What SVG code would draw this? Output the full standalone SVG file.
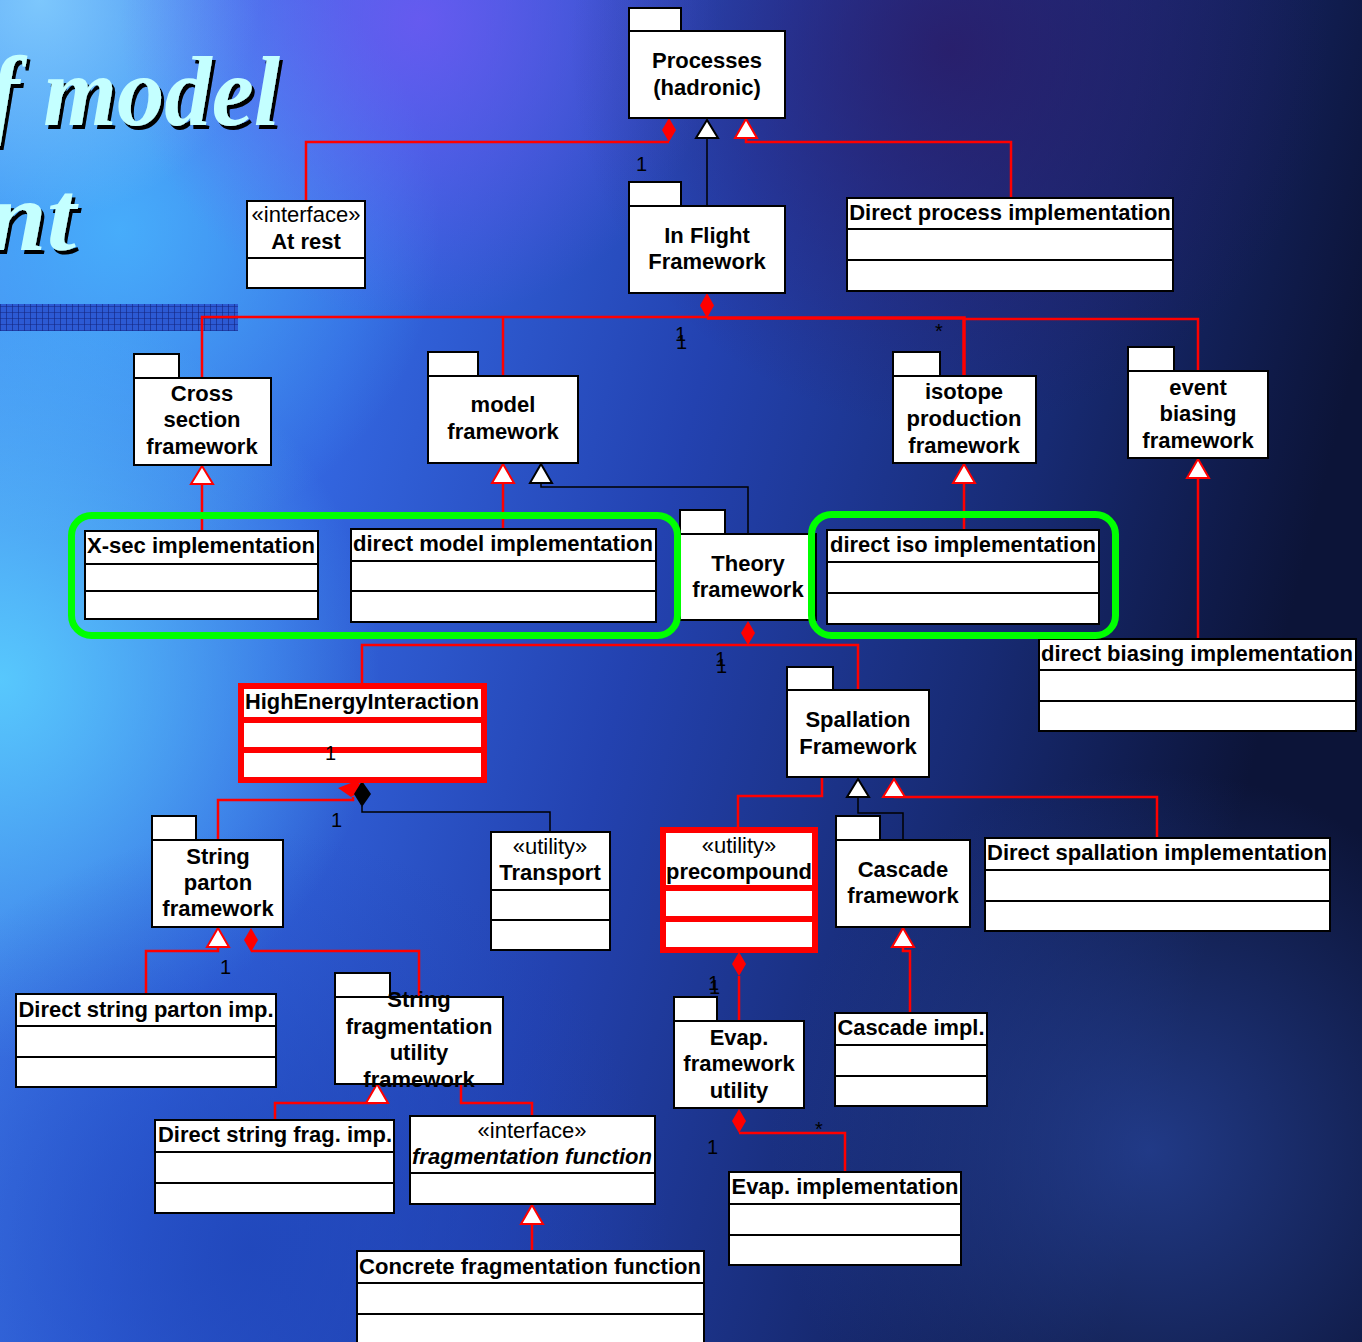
<svg xmlns="http://www.w3.org/2000/svg" width="1362" height="1342" viewBox="0 0 1362 1342">
<defs>
<linearGradient id="bg" x1="0" y1="0" x2="1" y2="0.25">
<stop offset="0" stop-color="#4a8ef2"/>
<stop offset="0.3" stop-color="#3366e0"/>
<stop offset="0.55" stop-color="#2342b0"/>
<stop offset="0.8" stop-color="#172a72"/>
<stop offset="1" stop-color="#0c1438"/>
</linearGradient>
<radialGradient id="cy" cx="0" cy="680" r="380" gradientUnits="userSpaceOnUse">
<stop offset="0" stop-color="#5ad0ff" stop-opacity="0.9"/>
<stop offset="1" stop-color="#5ad0ff" stop-opacity="0"/>
</radialGradient>
<radialGradient id="cy2" cx="120" cy="230" r="320" gradientUnits="userSpaceOnUse">
<stop offset="0" stop-color="#48b8ff" stop-opacity="0.8"/>
<stop offset="1" stop-color="#48b8ff" stop-opacity="0"/>
</radialGradient>
<radialGradient id="tl" cx="40" cy="0" r="220" gradientUnits="userSpaceOnUse">
<stop offset="0" stop-color="#8ad4ff" stop-opacity="0.8"/>
<stop offset="1" stop-color="#8ad4ff" stop-opacity="0"/>
</radialGradient>
<radialGradient id="pu" cx="420" cy="20" r="300" gradientUnits="userSpaceOnUse">
<stop offset="0" stop-color="#7656f4" stop-opacity="0.75"/>
<stop offset="1" stop-color="#7656f4" stop-opacity="0"/>
</radialGradient>
<radialGradient id="dp" cx="950" cy="50" r="380" gradientUnits="userSpaceOnUse">
<stop offset="0" stop-color="#2c1860" stop-opacity="0.75"/>
<stop offset="1" stop-color="#2c1860" stop-opacity="0"/>
</radialGradient>
<radialGradient id="bl" cx="250" cy="1250" r="420" gradientUnits="userSpaceOnUse">
<stop offset="0" stop-color="#1e44b8" stop-opacity="0.8"/>
<stop offset="1" stop-color="#1e44b8" stop-opacity="0"/>
</radialGradient>
<radialGradient id="br" cx="1150" cy="1150" r="380" gradientUnits="userSpaceOnUse">
<stop offset="0" stop-color="#2a4aa8" stop-opacity="0.7"/>
<stop offset="1" stop-color="#2a4aa8" stop-opacity="0"/>
</radialGradient>
<pattern id="grid" width="6" height="6" patternUnits="userSpaceOnUse">
<rect width="6" height="6" fill="#2c5ad4"/>
<path d="M0 0H6M0 0V6" stroke="#13247e" stroke-width="1.2" fill="none"/>
</pattern>
<filter id="shadow" x="-10%" y="-10%" width="130%" height="140%">
<feDropShadow dx="3" dy="4" stdDeviation="0.6" flood-color="#000" flood-opacity="1"/>
</filter>
<style>
.box{fill:#fff;stroke:#000;stroke-width:2}
.div{stroke:#000;stroke-width:2}
.rbox{fill:#fff;stroke:#ff0000;stroke-width:6}
.rdiv{stroke:#ff0000;stroke-width:6}
.t{font-family:"Liberation Sans",Arial,sans-serif;font-size:22px;font-weight:bold;fill:#000;text-anchor:middle}
.s{font-family:"Liberation Sans",Arial,sans-serif;font-size:22px;fill:#000;text-anchor:middle}
.bi{font-style:italic}
.lab{font-family:"Liberation Sans",Arial,sans-serif;font-size:20px;fill:#000}
.r{fill:none;stroke:#ff0000;stroke-width:2.5}
.k{fill:none;stroke:#000;stroke-width:1.5}
.rt{fill:#fff;stroke:#ff0000;stroke-width:2}
.kt{fill:#fff;stroke:#000;stroke-width:2}
.rd{fill:#ff0000}
.kd{fill:#000}
.green{fill:none;stroke:#00ff00;stroke-width:7}
.title{font-family:"Liberation Serif","Times New Roman",serif;font-style:italic;font-weight:bold;font-size:100px;fill:#c4ffff;filter:url(#shadow)}
</style>
</defs>
<rect width="1362" height="1342" fill="url(#bg)"/>
<rect width="1362" height="1342" fill="url(#cy2)"/>
<rect width="1362" height="1342" fill="url(#tl)"/>
<rect width="1362" height="1342" fill="url(#cy)"/>
<rect width="1362" height="1342" fill="url(#pu)"/>
<rect width="1362" height="1342" fill="url(#dp)"/>
<rect width="1362" height="1342" fill="url(#bl)"/>
<rect width="1362" height="1342" fill="url(#br)"/>

<g id="title">
<text class="title" x="-12" y="125" textLength="292" lengthAdjust="spacingAndGlyphs">f model</text>
<text class="title" x="-12" y="250" textLength="88" lengthAdjust="spacingAndGlyphs">nt</text>
<rect x="0" y="304" width="238" height="27" fill="url(#grid)"/>
</g>

<g id="connectors">
<polyline class="r" points="669,142 306,142 306,201"/>
<polyline class="r" points="746,138 746,142 1011,142 1011,198"/>
<polyline class="k" points="707,138 707,206"/>
<polyline class="r" points="202,378 202,317 707,317"/>
<polyline class="r" points="503,317 503,376"/>
<polyline class="r" style="stroke-width:3.5" points="707,318 964,318 964,376"/>
<polyline class="r" points="964,319 1198,319 1198,371"/>
<polyline class="r" points="202,484 202,531"/>
<polyline class="r" points="503,483 503,529"/>
<polyline class="k" points="541,483 541,487 748,487 748,534"/>
<polyline class="r" points="964,483 964,530"/>
<polyline class="r" points="1198,478 1198,639"/>
<polyline class="r" points="362,686 362,645 858,645 858,690"/>
<polyline class="r" points="353,797 353,800 218,800 218,840"/>
<polyline class="k" points="362,806 362,812 550,812 550,832"/>
<polyline class="r" points="822,777 822,796 738,796 738,830"/>
<polyline class="k" points="858,797 858,813 903,813 903,840"/>
<polyline class="r" points="894,797 1157,797 1157,838"/>
<polyline class="r" points="218,947 218,951 146,951 146,994"/>
<polyline class="r" points="251,951 419,951 419,997"/>
<polyline class="r" points="377,1103 275,1103 275,1120"/>
<polyline class="r" points="461,1084 461,1103 532,1103 532,1116"/>
<polyline class="r" points="532,1224 532,1251"/>
<polyline class="r" points="739,976 739,1021"/>
<polyline class="r" points="903,947 903,951 910,951 910,1013"/>
<polyline class="r" points="739,1133 845,1133 845,1172"/>
<polygon class="rd" points="669,118 676,130 669,142 662,130"/>
<polygon class="kt" points="707,120 696,138 718,138"/>
<polygon class="rt" points="746,119 735,138 757,138"/>
<polygon class="rd" points="707,293 714,305.5 707,318 700,305.5"/>
<polygon class="rt" points="202,466 191,484 213,484"/>
<polygon class="rt" points="503,464 492,483 514,483"/>
<polygon class="kt" points="541,464 530,483 552,483"/>
<polygon class="rt" points="964,464 953,483 975,483"/>
<polygon class="rt" points="1198,459 1187,478 1209,478"/>
<polygon class="rd" points="748,621 755,633 748,645 741,633"/>
<polygon class="rd" points="338,788 356,781 366,789 351,797"/>
<polygon class="kd" points="362,781 371,794 362,807 354,794"/>
<polygon class="kt" points="858,779 847,797 869,797"/>
<polygon class="rt" points="894,779 883,797 905,797"/>
<polygon class="rt" points="218,928 207,947 229,947"/>
<polygon class="rd" points="251,928 258,940 251,952 244,940"/>
<polygon class="rt" points="377,1084 366,1103 388,1103"/>
<polygon class="rt" points="532,1205 521,1224 543,1224"/>
<polygon class="rd" points="739,952 746,964 739,976 732,964"/>
<polygon class="rt" points="903,928 892,947 914,947"/>
<polygon class="rd" points="739,1109 746,1121 739,1133 732,1121"/>
</g>

<g id="processes">
<rect class="box" x="629" y="8" width="52" height="23"/>
<rect class="box" x="629" y="31" width="156" height="87"/>
<text class="t" x="707" y="68">Processes</text>
<text class="t" x="707" y="95">(hadronic)</text>
</g>
<g id="inflight">
<rect class="box" x="629" y="182" width="52" height="24"/>
<rect class="box" x="629" y="206" width="156" height="87"/>
<text class="t" x="707" y="243">In Flight</text>
<text class="t" x="707" y="269">Framework</text>
</g>
<g id="atrest">
<rect class="box" x="247" y="201" width="118" height="87"/>
<line class="div" x1="247" y1="258" x2="365" y2="258"/>
<text class="s" x="306" y="222">«interface»</text>
<text class="t" x="306" y="249">At rest</text>
</g>
<g id="directprocess">
<rect class="box" x="847" y="198" width="326" height="93"/>
<line class="div" x1="847" y1="229" x2="1173" y2="229"/>
<line class="div" x1="847" y1="260" x2="1173" y2="260"/>
<text class="t" x="1010" y="220">Direct process implementation</text>
</g>
<g id="crosssection">
<rect class="box" x="134" y="354" width="45" height="24"/>
<rect class="box" x="134" y="378" width="137" height="87"/>
<text class="t" x="202" y="401">Cross</text>
<text class="t" x="202" y="427">section</text>
<text class="t" x="202" y="454">framework</text>
</g>
<g id="modelfw">
<rect class="box" x="428" y="352" width="50" height="24"/>
<rect class="box" x="428" y="376" width="150" height="87"/>
<text class="t" x="503" y="412">model</text>
<text class="t" x="503" y="439">framework</text>
</g>
<g id="isotope">
<rect class="box" x="893" y="352" width="47" height="24"/>
<rect class="box" x="893" y="376" width="143" height="87"/>
<text class="t" x="964" y="399">isotope</text>
<text class="t" x="964" y="426">production</text>
<text class="t" x="964" y="453">framework</text>
</g>
<g id="eventbiasing">
<rect class="box" x="1128" y="347" width="46" height="24"/>
<rect class="box" x="1128" y="371" width="140" height="87"/>
<text class="t" x="1198" y="395">event</text>
<text class="t" x="1198" y="421">biasing</text>
<text class="t" x="1198" y="448">framework</text>
</g>
<g id="xsecimpl">
<rect class="box" x="85" y="531" width="233" height="88"/>
<line class="div" x1="85" y1="564" x2="318" y2="564"/>
<line class="div" x1="85" y1="591" x2="318" y2="591"/>
<text class="t" x="201" y="553" textLength="228" lengthAdjust="spacingAndGlyphs">X-sec implementation</text>
</g>
<g id="directmodel">
<rect class="box" x="351" y="529" width="305" height="93"/>
<line class="div" x1="351" y1="561" x2="656" y2="561"/>
<line class="div" x1="351" y1="591" x2="656" y2="591"/>
<text class="t" x="503" y="551" textLength="300" lengthAdjust="spacingAndGlyphs">direct model implementation</text>
</g>
<g id="theory">
<rect class="box" x="680" y="510" width="45" height="24"/>
<rect class="box" x="680" y="534" width="136" height="86"/>
<text class="t" x="748" y="571">Theory</text>
<text class="t" x="748" y="597">framework</text>
</g>
<g id="directiso">
<rect class="box" x="827" y="530" width="272" height="94"/>
<line class="div" x1="827" y1="562" x2="1099" y2="562"/>
<line class="div" x1="827" y1="593" x2="1099" y2="593"/>
<text class="t" x="963" y="552" textLength="266" lengthAdjust="spacingAndGlyphs">direct iso implementation</text>
</g>
<g id="directbiasing">
<rect class="box" x="1039" y="639" width="317" height="92"/>
<line class="div" x1="1039" y1="670" x2="1356" y2="670"/>
<line class="div" x1="1039" y1="701" x2="1356" y2="701"/>
<text class="t" x="1197" y="661" textLength="312" lengthAdjust="spacingAndGlyphs">direct biasing implementation</text>
</g>
<g id="highenergy">
<rect class="rbox" x="241" y="686" width="243" height="94"/>
<line class="rdiv" x1="241" y1="720" x2="484" y2="720"/>
<line class="rdiv" x1="241" y1="750" x2="484" y2="750"/>
<text class="t" x="362" y="709" textLength="234" lengthAdjust="spacingAndGlyphs">HighEnergyInteraction</text>
</g>
<g id="spallation">
<rect class="box" x="787" y="667" width="46" height="23"/>
<rect class="box" x="787" y="690" width="142" height="87"/>
<text class="t" x="858" y="727">Spallation</text>
<text class="t" x="858" y="754">Framework</text>
</g>
<g id="stringparton">
<rect class="box" x="152" y="816" width="44" height="24"/>
<rect class="box" x="152" y="840" width="131" height="87"/>
<text class="t" x="218" y="864">String</text>
<text class="t" x="218" y="890">parton</text>
<text class="t" x="218" y="916">framework</text>
</g>
<g id="transport">
<rect class="box" x="491" y="832" width="119" height="118"/>
<line class="div" x1="491" y1="890" x2="610" y2="890"/>
<line class="div" x1="491" y1="920" x2="610" y2="920"/>
<text class="s" x="550" y="854">«utility»</text>
<text class="t" x="550" y="880">Transport</text>
</g>
<g id="precompound">
<rect class="rbox" x="663" y="830" width="152" height="120"/>
<line class="rdiv" x1="663" y1="888" x2="815" y2="888"/>
<line class="rdiv" x1="663" y1="919" x2="815" y2="919"/>
<text class="s" x="739" y="853">«utility»</text>
<text class="t" x="739" y="879" textLength="146" lengthAdjust="spacingAndGlyphs">precompound</text>
</g>
<g id="cascadefw">
<rect class="box" x="836" y="816" width="44" height="24"/>
<rect class="box" x="836" y="840" width="134" height="87"/>
<text class="t" x="903" y="877">Cascade</text>
<text class="t" x="903" y="903">framework</text>
</g>
<g id="directspallation">
<rect class="box" x="985" y="838" width="345" height="93"/>
<line class="div" x1="985" y1="870" x2="1330" y2="870"/>
<line class="div" x1="985" y1="901" x2="1330" y2="901"/>
<text class="t" x="1157" y="860" textLength="340" lengthAdjust="spacingAndGlyphs">Direct spallation implementation</text>
</g>
<g id="directstringparton">
<rect class="box" x="16" y="994" width="260" height="93"/>
<line class="div" x1="16" y1="1026" x2="276" y2="1026"/>
<line class="div" x1="16" y1="1057" x2="276" y2="1057"/>
<text class="t" x="146" y="1017" textLength="255" lengthAdjust="spacingAndGlyphs">Direct string parton imp.</text>
</g>
<g id="stringfrag">
<rect class="box" x="335" y="973" width="55" height="24"/>
<rect class="box" x="335" y="997" width="168" height="87"/>
<text class="t" x="419" y="1007">String</text>
<text class="t" x="419" y="1034">fragmentation</text>
<text class="t" x="419" y="1060">utility</text>
<text class="t" x="419" y="1087">framework</text>
</g>
<g id="directstringfrag">
<rect class="box" x="155" y="1120" width="239" height="93"/>
<line class="div" x1="155" y1="1152" x2="394" y2="1152"/>
<line class="div" x1="155" y1="1183" x2="394" y2="1183"/>
<text class="t" x="275" y="1142" textLength="234" lengthAdjust="spacingAndGlyphs">Direct string frag. imp.</text>
</g>
<g id="fragfunction">
<rect class="box" x="410" y="1116" width="245" height="88"/>
<line class="div" x1="410" y1="1173" x2="655" y2="1173"/>
<text class="s" x="532" y="1138">«interface»</text>
<text class="t bi" x="532" y="1164" textLength="240" lengthAdjust="spacingAndGlyphs">fragmentation function</text>
</g>
<g id="concretefrag">
<rect class="box" x="357" y="1251" width="347" height="100"/>
<line class="div" x1="357" y1="1283" x2="704" y2="1283"/>
<line class="div" x1="357" y1="1314" x2="704" y2="1314"/>
<text class="t" x="530" y="1274" textLength="342" lengthAdjust="spacingAndGlyphs">Concrete fragmentation function</text>
</g>
<g id="evapfw">
<rect class="box" x="674" y="997" width="43" height="24"/>
<rect class="box" x="674" y="1021" width="130" height="87"/>
<text class="t" x="739" y="1045">Evap.</text>
<text class="t" x="739" y="1071">framework</text>
<text class="t" x="739" y="1098">utility</text>
</g>
<g id="cascadeimpl">
<rect class="box" x="835" y="1013" width="152" height="93"/>
<line class="div" x1="835" y1="1045" x2="987" y2="1045"/>
<line class="div" x1="835" y1="1076" x2="987" y2="1076"/>
<text class="t" x="911" y="1035" textLength="147" lengthAdjust="spacingAndGlyphs">Cascade impl.</text>
</g>
<g id="evapimpl">
<rect class="box" x="729" y="1172" width="232" height="93"/>
<line class="div" x1="729" y1="1204" x2="961" y2="1204"/>
<line class="div" x1="729" y1="1235" x2="961" y2="1235"/>
<text class="t" x="845" y="1194" textLength="227" lengthAdjust="spacingAndGlyphs">Evap. implementation</text>
</g>

<g id="groups">
<rect class="green" x="71.5" y="515.5" width="606" height="120" rx="20"/>
<rect class="green" x="811.5" y="514.5" width="304" height="121" rx="20"/>
</g>

<g id="labels">
<text class="lab" x="636" y="171">1</text>
<text class="lab" x="675" y="341">1</text>
<text class="lab" x="676" y="349">1</text>
<text class="lab" x="935" y="338">*</text>
<text class="lab" x="715" y="666">1</text>
<text class="lab" x="716" y="673">1</text>
<text class="lab" x="325" y="760">1</text>
<text class="lab" x="331" y="827">1</text>
<text class="lab" x="220" y="974">1</text>
<text class="lab" x="708" y="990">1</text>
<text class="lab" x="709" y="994">1</text>
<text class="lab" x="707" y="1154">1</text>
<text class="lab" x="815" y="1136">*</text>
</g>
</svg>
